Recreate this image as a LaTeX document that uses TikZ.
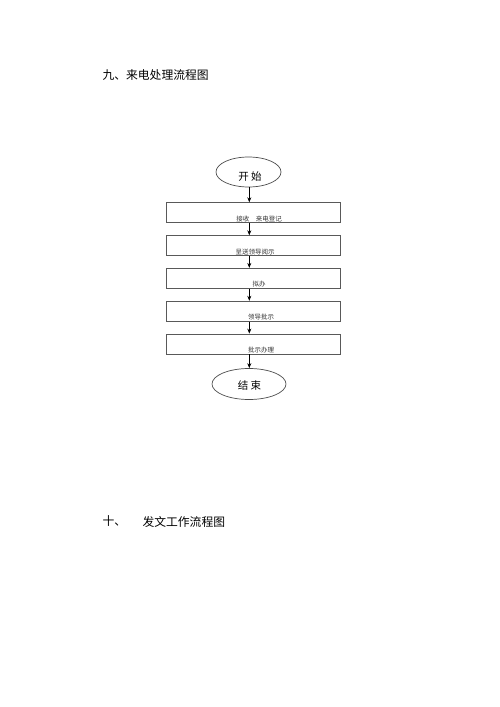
\documentclass[tikz,border=0pt]{standalone}
\usepackage{fontspec}
\newfontfamily\cjk{Noto Sans CJK SC}
\usetikzlibrary{shapes.geometric,arrows.meta}
\begin{document}
\begin{tikzpicture}[x=1pt,y=-1pt,
  flowbox/.style={draw=black!65,line width=0.8pt,minimum width=174pt,minimum height=20pt,inner sep=0pt},
  oval/.style={draw=black!70,line width=0.7pt,ellipse,inner sep=0pt},
  boxtext/.style={font=\cjk\fontsize{6.5}{7}\selectfont,anchor=base,text=black!80},
  flowarrow/.style={-{Stealth[length=5pt,width=4pt]},line width=0.7pt,black}]
\useasboundingbox (0,0) rectangle (500,707);
\node[anchor=west,font=\cjk\fontsize{11.8}{13}\selectfont] (title1) at (99,75.5) {九、来电处理流程图};
\node[anchor=west,font=\cjk\fontsize{11.8}{13}\selectfont] (num2) at (99,521.5) {十、};
\node[anchor=west,font=\cjk\fontsize{11.8}{13}\selectfont] (title2) at (139,521.5) {发文工作流程图};

\node[oval,minimum width=65pt,minimum height=30pt] (start) at (248.5,172) {};
\node[font=\cjk\fontsize{10.5}{12}\selectfont] (starttxt) at (250,177) {开\ 始};

\node[flowbox] (b1) at (253,212.7) {};
\node[flowbox] (b2) at (253,245.7) {};
\node[flowbox] (b3) at (253,278.3) {};
\node[flowbox] (b4) at (253,311.2) {};
\node[flowbox] (b5) at (253,344) {};

\node[boxtext] (t1) at (259,221) {接收\quad 来电登记};
\node[boxtext] (t2) at (255,254) {呈送领导阅示};
\node[boxtext] (t3) at (259,286.5) {拟办};
\node[boxtext] (t4) at (261,319.5) {领导批示};
\node[boxtext] (t5) at (261,352.3) {批示办理};

\node[oval,minimum width=74pt,minimum height=31pt] (end) at (249,384) {};
\node[font=\cjk\fontsize{10.5}{12}\selectfont] (endtxt) at (249.5,385) {结\ 束};

\draw[flowarrow] (start.south -| 249.3,0) -- (b1.north -| 249.3,0);
\draw[flowarrow] (b1.south -| 249.3,0) -- (b2.north -| 249.3,0);
\draw[flowarrow] (b2.south -| 249.3,0) -- (b3.north -| 249.3,0);
\draw[flowarrow] (b3.south -| 249.3,0) -- (b4.north -| 249.3,0);
\draw[flowarrow] (b4.south -| 249.3,0) -- (b5.north -| 249.3,0);
\draw[flowarrow] (b5.south -| 249.3,0) -- (end.north -| 249.3,0);
\end{tikzpicture}
\end{document}
